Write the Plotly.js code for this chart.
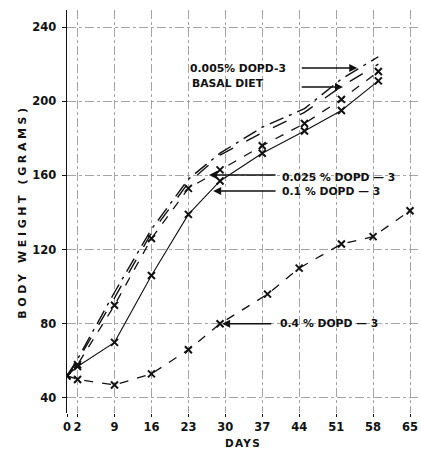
<!DOCTYPE html>
<html>
<head>
<meta charset="utf-8">
<script src="https://cdn.plot.ly/plotly-3.0.1.min.js"></script>
<style>
  html, body { margin: 0; padding: 0; background: #fff; }
  #chart { width: 421px; height: 449px; }
  .ytitle { letter-spacing: 3.6px; }
  .xtitle { letter-spacing: 1.2px; }
</style>
</head>
<body>
<div id="chart"></div>
<script>
// ---- data ----
var dayTicks = [0, 2, 9, 16, 23, 30, 37, 44, 51, 58, 65];
var weightTicks = [40, 80, 120, 160, 200, 240];

var upperDays = [0, 2, 9, 16, 23, 29, 37, 45, 52, 59];
var dopd005 = [52, 61, 97, 131, 158, 172, 186, 196, 212, 224];
var basalDiet = [52, 60, 94, 129, 156, 171, 183, 194, 208, 220];
var dopd025 = [52, 58, 90, 126, 153, 163, 176, 188, 201, 216];
var dopd01 = [52, 57, 70, 106, 139, 157, 172, 184, 195, 211];

var lowDays = [0, 2, 9, 16, 23, 29, 38, 44, 52, 58, 65];
var dopd04 = [52, 50, 47, 53, 66, 80, 96, 110, 123, 127, 141];

var seriesNames = ['0.005% DOPD-3', 'BASAL DIET', '0.025 % DOPD — 3', '0.1 % DOPD — 3', '0.4 % DOPD — 3'];

// ---- chart ----
var ink = '#111';
var mk = { symbol: 'x-thin-open', size: 7, color: ink, line: { color: ink, width: 2 } };

var traces = [
  { x: upperDays, y: dopd005, name: seriesNames[0], mode: 'lines',
    line: { color: ink, width: 1.4, dash: 'longdashdot' } },
  { x: upperDays, y: basalDiet, name: seriesNames[1], mode: 'lines',
    line: { color: ink, width: 1.4, dash: 'longdash' } },
  { x: upperDays, y: dopd025, name: seriesNames[2], mode: 'lines+markers',
    line: { color: ink, width: 1.3, dash: 'dash' }, marker: mk },
  { x: upperDays, y: dopd01, name: seriesNames[3], mode: 'lines+markers',
    line: { color: ink, width: 1.1 }, marker: mk },
  { x: lowDays, y: dopd04, name: seriesNames[4], mode: 'lines+markers',
    line: { color: ink, width: 1.3, dash: 'dash' }, marker: mk }
];

var fam = 'DejaVu Sans, sans-serif';
function label(text, x, y) {
  return { text: text, x: x, y: y, xref: 'x', yref: 'y', showarrow: false,
           xanchor: 'left', yanchor: 'middle',
           font: { family: fam, size: 10.8, color: ink, weight: 'bold' } };
}
function arrow(xTip, yTip, xTail, yTail) {
  return { text: '', x: xTip, y: yTip, ax: xTail, ay: yTail, xref: 'x', yref: 'y',
           axref: 'x', ayref: 'y', showarrow: true, arrowhead: 2, arrowsize: 1,
           arrowwidth: 1.6, arrowcolor: ink };
}

var annotations = [
  label(seriesNames[0], 23.0, 217.9),
  arrow(55.0, 217.9, 44.2, 217.9),
  label(seriesNames[1], 23.3, 209.8),
  arrow(52.3, 207.7, 44.2, 207.7),
  label(seriesNames[2], 40.3, 159.1),
  arrow(26.9, 160.2, 39.8, 160.2),
  label(seriesNames[3], 40.3, 151.1),
  arrow(27.7, 151.6, 39.8, 151.6),
  label(seriesNames[4], 39.9, 80),
  arrow(29.4, 80, 39.0, 80)
];

var layout = {
  width: 421, height: 449,
  margin: { l: 67, r: 2, t: 10, b: 36 },
  paper_bgcolor: '#fff', plot_bgcolor: '#fff',
  showlegend: false,
  font: { family: fam, color: ink },
  xaxis: {
    range: [0, 66.7], tickvals: dayTicks, ticks: 'outside', ticklen: 3, tickcolor: ink,
    tickfont: { size: 11.5, family: fam, color: ink, weight: 'bold' },
    showline: false, zeroline: false,
    showgrid: true, gridcolor: '#9a9a9a', gridwidth: 0.9, griddash: 'dashdot',
    title: { text: 'DAYS', font: { size: 10.5, family: fam, color: ink, weight: 'bold' }, standoff: 7 }
  },
  yaxis: {
    range: [31.9, 249.2], tickvals: weightTicks, ticks: 'outside', ticklen: 4, tickcolor: ink,
    tickfont: { size: 11.5, family: fam, color: ink, weight: 'bold' },
    ticklabelstandoff: 3,
    showline: true, linecolor: ink, linewidth: 1.5, zeroline: false,
    showgrid: true, gridcolor: '#9a9a9a', gridwidth: 0.9, griddash: 'dashdot',
    title: { text: 'BODY WEIGHT (GRAMS)', font: { size: 11, family: fam, color: ink, weight: 'bold' }, standoff: 3 }
  },
  annotations: annotations
};

Plotly.newPlot('chart', traces, layout, { staticPlot: true, displayModeBar: false });
</script>
</body>
</html>
